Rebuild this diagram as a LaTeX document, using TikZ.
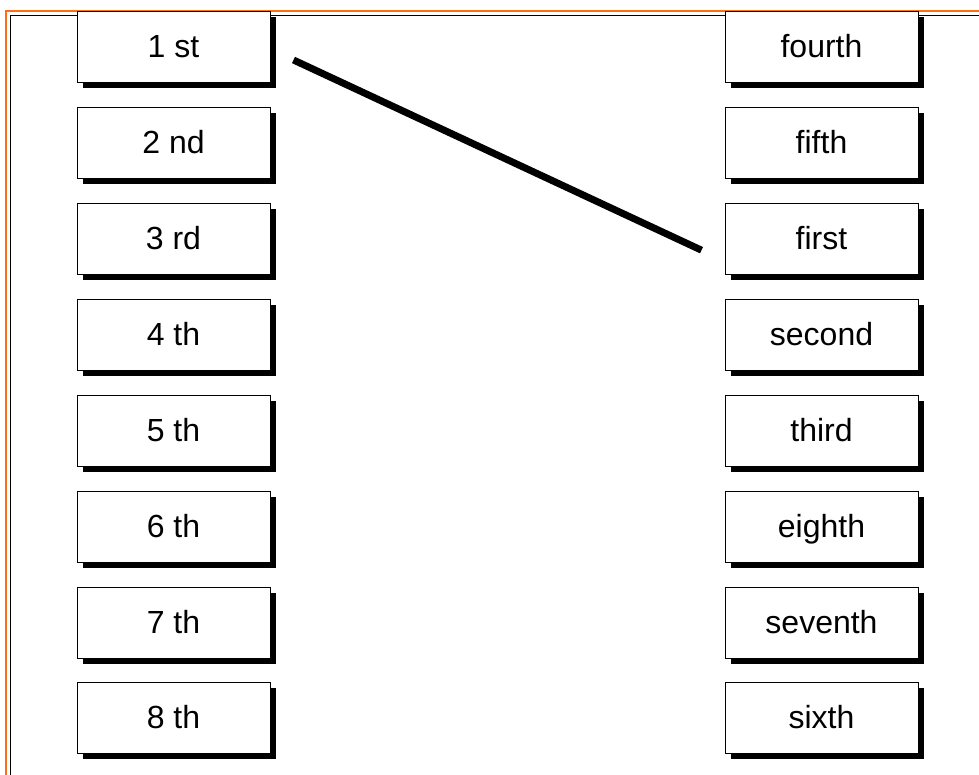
\documentclass[tikz,border=0pt]{standalone}
\usepackage{fontspec}
\setmainfont{Liberation Sans}
\usepackage{tikz}
\usetikzlibrary{calc,shapes,shadows,positioning}
\definecolor{frameorange}{RGB}{255,110,20}

\begin{document}
\begin{tikzpicture}[x=1pt,y=1pt]

        \tikzstyle{every node}=[font=\fontsize{32}{32}\selectfont]
        \tikzstyle{card}=[draw=black, line width=1pt, fill=white, inner sep=0pt,
          minimum width=193pt, minimum height=71pt, text height=21pt, text depth=0pt,
          drop shadow={shadow xshift=5.5pt, shadow yshift=-5.5pt, fill=black, opacity=1}]
        \useasboundingbox (0,0) rectangle (979,775);

        % frame
        \draw[frameorange, line width=2pt] (5.5,0) -- (5.5,763.5) -- (979,763.5);
        \draw[black, line width=1.8pt] (10.5,0) -- (10.5,759.5) -- (979,759.5);

        % left column
        \node[card] (L1) at (173.5,727.5) {1 st};
        \node[card] (L2) at (173.5,631.6) {2 nd};
        \node[card] (L3) at (173.5,535.8) {3 rd};
        \node[card] (L4) at (173.5,439.9) {4 th};
        \node[card] (L5) at (173.5,344.1) {5 th};
        \node[card] (L6) at (173.5,248.2) {6 th};
        \node[card] (L7) at (173.5,152.3) {7 th};
        \node[card] (L8) at (173.5,56.5) {8 th};

        % right column
        \node[card] (R1) at (821.5,727.5) {fourth};
        \node[card] (R2) at (821.5,631.6) {fifth};
        \node[card] (R3) at (821.5,535.8) {first};
        \node[card] (R4) at (821.5,439.9) {second};
        \node[card] (R5) at (821.5,344.1) {third};
        \node[card] (R6) at (821.5,248.2) {eighth};
        \node[card] (R7) at (821.5,152.3) {seventh};
        \node[card] (R8) at (821.5,56.5) {sixth};

        % match
        \coordinate (m1) at ($(L1.east)+(23,-12.5)$);
        \coordinate (m2) at ($(R3.west)+(-23,-11)$);
        \draw[line width=7pt] (m1) -- (m2);
      \end{tikzpicture}
\end{document}
